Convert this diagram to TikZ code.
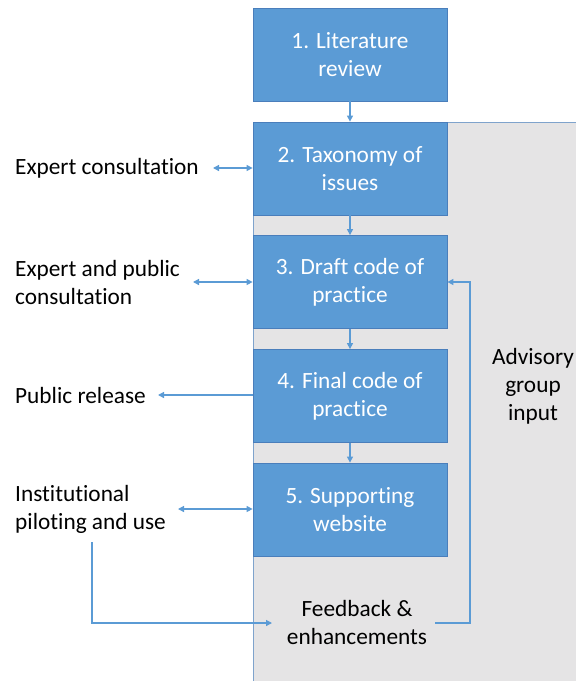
\documentclass[tikz,border=0pt]{standalone}
\usepackage{fontspec}
\setmainfont{Carlito}[Ligatures=NoCommon]
\usetikzlibrary{arrows.meta}
\definecolor{boxblue}{HTML}{5B9BD5}
\definecolor{boxedge}{HTML}{4A7EBB}
\definecolor{panelgray}{HTML}{E5E4E5}
\definecolor{paneledge}{HTML}{7FA3CC}
\definecolor{linkblue}{HTML}{5B9BD5}
\begin{document}
\begin{tikzpicture}[x=1pt,y=-1pt,
  stagebox/.style={draw=boxedge,line width=0.8pt,fill=boxblue,minimum width=194pt,minimum height=93pt,
    text=white,align=center,font=\fontsize{23.3}{28}\selectfont,inner sep=0pt},
  sidetext/.style={align=left,font=\fontsize{23.3}{28}\selectfont,inner sep=0pt,anchor=west},
  midtext/.style={align=center,font=\fontsize{23.3}{28}\selectfont,inner sep=0pt},
  link/.style={draw=linkblue,line width=1.3pt,-{Triangle[length=6pt,width=6pt]}},
  biglink/.style={draw=linkblue,line width=1.3pt,{Triangle[length=6pt,width=6pt]}-{Triangle[length=6pt,width=6pt]}}]
  \useasboundingbox (0,0) rectangle (576,681);
  % grey advisory panel behind stages 2-5
  \fill[panelgray] (253,122) rectangle (580,690);
  \draw[paneledge,line width=0.8pt] (253,690) -- (253,122) -- (580,122);
  % stages
  \node[stagebox] (s1) at (350,54.5) {1. Literature\\review};
  \node[stagebox] (s2) at (350,168.5) {2. Taxonomy of\\issues};
  \node[stagebox] (s3) at (350,282) {3. Draft code of\\practice};
  \node[stagebox] (s4) at (350,396) {4. Final code of\\practice};
  \node[stagebox] (s5) at (350,509.5) {5. Supporting\\website};
  % side labels
  \node[sidetext] (ec) at (15,168) {Expert consultation};
  \node[sidetext] (ep) at (15,282) {Expert and public\\consultation};
  \node[sidetext] (pr) at (15,395) {Public release};
  \node[sidetext] (ip) at (15,509) {Institutional\\piloting and use};
  \node[midtext] (fb) at (357,622) {Feedback \&\\enhancements};
  \node[midtext] (ag) at (533,386) {Advisory\\group\\input};
  % flow down the stages
  \draw[link] (s1) -- (s2);
  \draw[link] (s2) -- (s3);
  \draw[link] (s3) -- (s4);
  \draw[link] (s4) -- (s5);
  % exchanges with the outside
  \draw[biglink] (213,168) -- (s2.west |- ec.east);
  \draw[biglink] (193,282) -- (s3.west);
  \draw[link] (s4.west |- pr.east) -- (158,395);
  \draw[biglink] (178,509) -- (s5.west |- 0,509);
  % feedback loop
  \coordinate (ipfoot) at (92,542);
  \coordinate (loopcorner) at (470,623);
  \draw[link] (ipfoot) -- (92,623) -- (272,623);
  \draw[link] (435,623) -- (loopcorner) -- (470,282) -- (s3.east);
\end{tikzpicture}
\end{document}
